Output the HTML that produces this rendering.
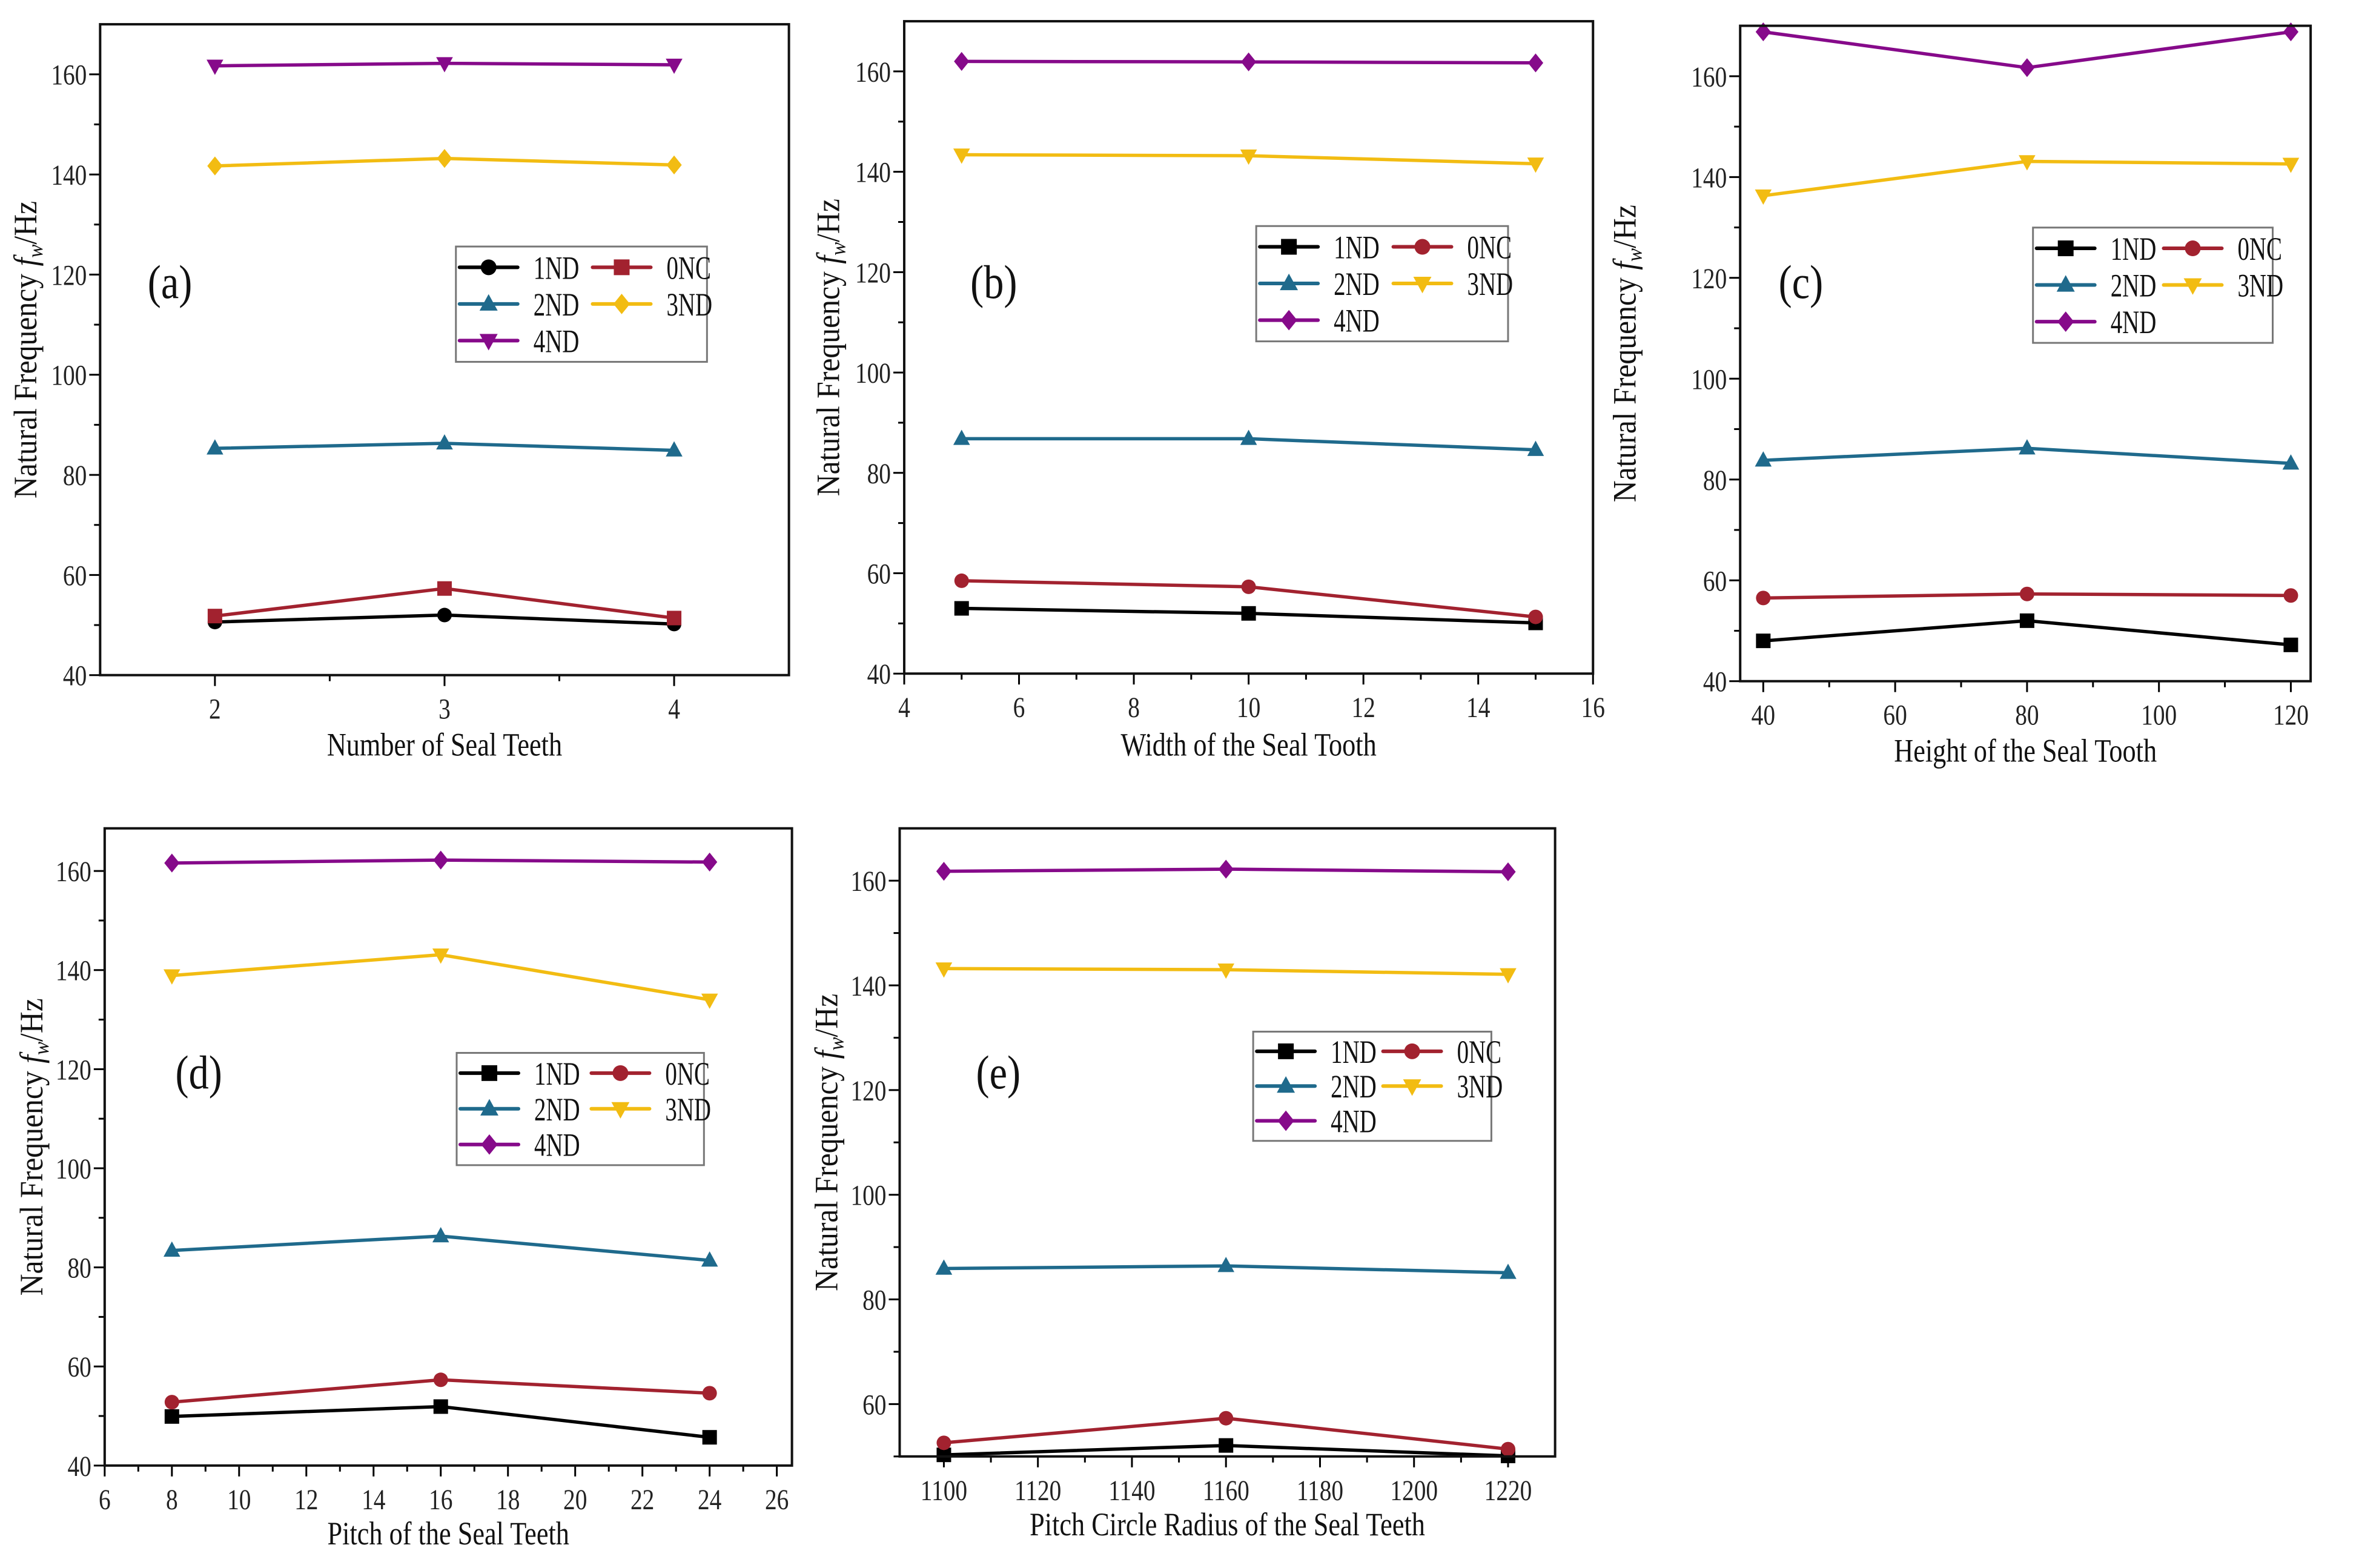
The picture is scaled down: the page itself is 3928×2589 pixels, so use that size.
<!DOCTYPE html>
<html><head><meta charset="utf-8"><style>
html,body{margin:0;padding:0;background:#fff;}
svg{display:block;font-family:"Liberation Serif",serif;}
</style></head><body>
<svg id="fig" width="3928" height="2589" viewBox="0 0 3928 2589" xmlns="http://www.w3.org/2000/svg"></svg>
<script>
// ---- data ----
const seriesNames = ["1ND","0NC","2ND","3ND","4ND"];
const xA = [2,3,4];
const a1ND = [50.6,52.0,50.2], a0NC = [51.8,57.3,51.4], a2ND = [85.3,86.3,84.9], a3ND = [141.7,143.2,141.9], a4ND = [161.7,162.2,161.9];
const xB = [5,10,15];
const b1ND = [53.0,52.0,50.1], b0NC = [58.5,57.3,51.3], b2ND = [86.8,86.8,84.6], b3ND = [143.4,143.2,141.6], b4ND = [162.0,161.9,161.7];
const xC = [40,80,120];
const c1ND = [48.0,52.0,47.2], c0NC = [56.5,57.3,57.0], c2ND = [83.8,86.2,83.2], c3ND = [136.3,143.1,142.6], c4ND = [168.8,161.7,168.8];
const xD = [8,16,24];
const d1ND = [49.9,51.9,45.7], d0NC = [52.8,57.3,54.6], d2ND = [83.4,86.3,81.4], d3ND = [138.9,143.1,134.0], d4ND = [161.6,162.2,161.8];
const xE = [1100,1160,1220];
const e1ND = [50.3,52.1,50.1], e0NC = [52.6,57.3,51.4], e2ND = [85.9,86.4,85.1], e3ND = [143.2,143.0,142.1], e4ND = [161.8,162.2,161.7];
const xTicksA = [2,3,4], xTicksB = [4,6,8,10,12,14,16], xTicksC = [40,60,80,100,120], xTicksD = [6,8,10,12,14,16,18,20,22,24,26], xTicksE = [1100,1120,1140,1160,1180,1200,1220];
const yTicksMain = [40,60,80,100,120,140,160], yTicksE = [60,80,100,120,140,160];

const COLORS = {"1ND":"#000000","0NC":"#a2222f","2ND":"#1f6a8c","3ND":"#f2bc12","4ND":"#860a8a"};
const S = 2.505;
const NS = "http://www.w3.org/2000/svg";
const svg = document.getElementById('fig');
function el(tag, attrs, parent){ const e=document.createElementNS(NS,tag); for(const k in attrs) e.setAttribute(k,attrs[k]); (parent||svg).appendChild(e); return e; }
function condense(t, f){ const L=t.getComputedTextLength(); if(L>0){ t.setAttribute('textLength', (L*f).toFixed(1)); t.setAttribute('lengthAdjust','spacingAndGlyphs'); } }

function marker(g, shape, x, y, c, r){
  let m;
  if(shape==='circle') m = el('circle',{cx:x,cy:y,r:r,fill:c},g);
  else if(shape==='square') m = el('rect',{x:x-r,y:y-r,width:2*r,height:2*r,fill:c},g);
  else if(shape==='up') m = el('polygon',{points:`${x},${y-r*1.25} ${x-r*1.15},${y+r*0.85} ${x+r*1.15},${y+r*0.85}`,fill:c},g);
  else if(shape==='down') m = el('polygon',{points:`${x},${y+r*1.25} ${x-r*1.15},${y-r*0.85} ${x+r*1.15},${y-r*0.85}`,fill:c},g);
  else m = el('polygon',{points:`${x},${y-r*1.3} ${x+r*1.05},${y} ${x},${y+r*1.3} ${x-r*1.05},${y}`,fill:c},g);
  return m;
}

function panel(p){
  const g = el('g',{});
  
  
  const L=p.box[0]*S, T=p.box[1]*S, R=p.box[2]*S, B=p.box[3]*S;
  const sx = v => L + (v-p.xd[0])/(p.xd[1]-p.xd[0])*(R-L);
  const sy = v => B - (v-p.yd[0])/(p.yd[1]-p.yd[0])*(B-T);
  const tk = 18, mtk = 10;
  p.xt.forEach((v,i)=>{
    const x=sx(v);
    const t=el('line',{x1:x,y1:B,x2:x,y2:B+tk,stroke:'#000','stroke-width':3},g);
     
    const lb=el('text',{x:x,y:B+72,'font-size':48,'text-anchor':'middle',fill:'#222'},g);
    lb.textContent=v;  
    condense(lb,0.82);
    if(i<p.xt.length-1){ const mx=sx((v+p.xt[i+1])/2); el('line',{x1:mx,y1:B,x2:mx,y2:B+mtk,stroke:'#000','stroke-width':3},g); }
  });
  p.yt.forEach((v,i)=>{
    const y=sy(v);
    el('line',{x1:L,y1:y,x2:L-tk,y2:y,stroke:'#000','stroke-width':3},g);
    const lb=el('text',{x:L-22,y:y+17,'font-size':48,'text-anchor':'end',fill:'#222'},g);
    lb.textContent=v;  
    condense(lb,0.82);
    const step = p.yt[1]-p.yt[0];
    const mv=v+step/2; if(mv<p.yd[1]) { const my=sy(mv); el('line',{x1:L,y1:my,x2:L-mtk,y2:my,stroke:'#000','stroke-width':3},g); }
    if(i===0 && v-step/2>=p.yd[0]){ const my=sy(v-step/2); el('line',{x1:L,y1:my,x2:L-mtk,y2:my,stroke:'#000','stroke-width':3},g); }
  });
  seriesNames.forEach((n,si)=>{
    const vals=p.series[si];
    const pts=p.x.map((xv,i)=>sx(xv).toFixed(1)+','+sy(vals[i]).toFixed(1)).join(' ');
    const sg=el('g',{},g);
     
    const pl=el('polyline',{points:pts,fill:'none',stroke:COLORS[n],'stroke-width':5.5,'stroke-linejoin':'round'},sg);
     
    p.x.forEach((xv,i)=>{
      const m=marker(sg,p.shapes[si],sx(xv),sy(vals[i]),COLORS[n],12);
       
    });
  });
  const fr=el('rect',{x:L,y:T,width:R-L,height:B-T,fill:'none',stroke:'#111','stroke-width':4},g);
   
  const xt=el('text',{x:(L+R)/2,y:p.xty*S,'font-size':54,'text-anchor':'middle',fill:'#111'},g);
  xt.textContent=p.xtitle;  
  condense(xt,0.82);
  const yx=p.ytx*S, yy=(T+B)/2;
  const yt=el('text',{x:yx,y:yy,'font-size':54,'text-anchor':'middle',fill:'#111',transform:`rotate(-90 ${yx} ${yy})`},g);
   
  const t1=el('tspan',{},yt); t1.textContent='Natural Frequency ';
  const t2=el('tspan',{'font-style':'italic'},yt); t2.textContent='f';
  const t3=el('tspan',{'font-style':'italic','font-size':36,dy:10},yt); t3.textContent='w';
  const t4=el('tspan',{dy:-10},yt); t4.textContent='/Hz';
  condense(yt,0.92);
  const pl=el('text',{x:p.lab[0]*S,y:p.lab[1]*S+26,'font-size':78,'text-anchor':'middle',fill:'#111'},g);
  pl.textContent='('+p.id+')';  
  condense(pl,0.85);
  const lg=el('g',{},g);
   
  const lx=p.leg[0]*S, ly=p.leg[1]*S, lw=(p.leg[2]-p.leg[0])*S, lh=(p.leg[3]-p.leg[1])*S;
  el('rect',{x:lx,y:ly,width:lw,height:lh,fill:'#fff',stroke:'#777','stroke-width':3},lg);
  seriesNames.forEach((n,si)=>{
    const col=si%2, row=Math.floor(si/2);
    const ox=lx+6+col*lw*0.53, oy=ly+lh*0.18+row*lh*0.318;
    const e=el('g',{},lg);
     
    el('line',{x1:ox,y1:oy,x2:ox+96,y2:oy,stroke:COLORS[n],'stroke-width':6,'stroke-linecap':'round'},e);
    marker(e,p.shapes[si],ox+48,oy,COLORS[n],13);
    const tx=el('text',{x:ox+122,y:oy+19,'font-size':54,fill:'#111'},e);
    tx.textContent=n; condense(tx,0.72);
  });
}

panel({id:'a',box:[66,16,520,445],xd:[1.5,4.5],yd:[40,170],x:xA,xt:xTicksA,yt:yTicksMain,
  series:[a1ND,a0NC,a2ND,a3ND,a4ND],shapes:['circle','square','up','diamond','down'],
  xtitle:'Number of Seal Teeth',xty:498,ytx:24,lab:[112,186],leg:[300.5,162.5,466,238.5]});
panel({id:'b',box:[596,14,1050,444],xd:[4,16],yd:[40,170],x:xB,xt:xTicksB,yt:yTicksMain,
  series:[b1ND,b0NC,b2ND,b3ND,b4ND],shapes:['square','circle','up','down','diamond'],
  xtitle:'Width of the Seal Tooth',xty:498,ytx:553,lab:[655,186],leg:[828,149,994,225]});
panel({id:'c',box:[1147,17,1523,449],xd:[36.5,123],yd:[40,170],x:xC,xt:xTicksC,yt:yTicksMain,
  series:[c1ND,c0NC,c2ND,c3ND,c4ND],shapes:['square','circle','up','down','diamond'],
  xtitle:'Height of the Seal Tooth',xty:502,ytx:1078,lab:[1187,186],leg:[1340,150,1498,226]});
panel({id:'d',box:[69,546,522,966],xd:[6,26.45],yd:[40,168.6],x:xD,xt:xTicksD,yt:yTicksMain,
  series:[d1ND,d0NC,d2ND,d3ND,d4ND],shapes:['square','circle','up','down','diamond'],
  xtitle:'Pitch of the Seal Teeth',xty:1018,ytx:28,lab:[131,707],leg:[301,694,464,768]});
panel({id:'e',box:[593,546,1025,960],xd:[1090.6,1230],yd:[50,170],x:xE,xt:xTicksE,yt:yTicksE,
  series:[e1ND,e0NC,e2ND,e3ND,e4ND],shapes:['square','circle','up','down','diamond'],
  xtitle:'Pitch Circle Radius of the Seal Teeth',xty:1012,ytx:552,lab:[658,707],leg:[826,680,983,752]});
</script>
</body></html>
